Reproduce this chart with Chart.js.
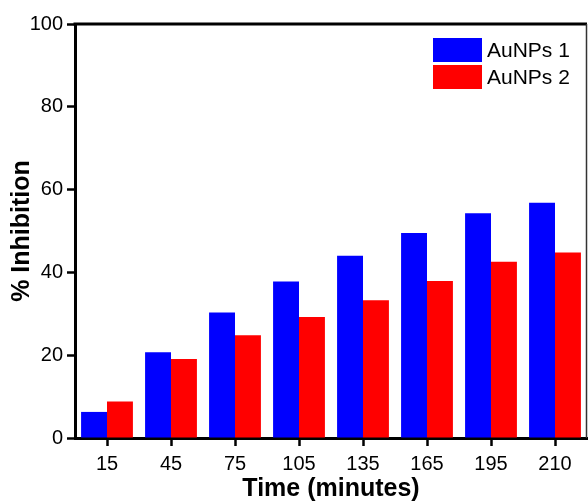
<!DOCTYPE html>
<html>
<head>
<meta charset="utf-8">
<script src="https://cdn.jsdelivr.net/npm/chart.js@4"></script>
<style>
  html, body { margin: 0; padding: 0; background: #fff; }
  #wrap { width: 588px; height: 504px; position: relative; }
</style>
</head>
<body>
<div id="wrap"><canvas id="myChart" width="588" height="504"></canvas></div>
<script>
// datos
const categories = ["15", "45", "75", "105", "135", "165", "195", "210"];
const aunps1 = [6.3, 20.7, 30.3, 37.8, 44.0, 49.5, 54.3, 56.8];
const aunps2 = [8.8, 19.1, 24.8, 29.2, 33.3, 37.9, 42.6, 44.8];
const yTicks = [0, 20, 40, 60, 80, 100];

const fuente = "'Liberation Sans', Arial, sans-serif";

// marco superior y derecho + leyenda dentro del area
const marcoYLeyenda = {
  id: "marcoYLeyenda",
  afterDraw(chart) {
    const ctx = chart.ctx;
    const a = chart.chartArea;
    ctx.save();
    ctx.strokeStyle = "#000";
    ctx.lineWidth = 3;
    ctx.beginPath();
    ctx.moveTo(a.left - 1.5, a.top);
    ctx.lineTo(a.right, a.top);
    ctx.stroke();
    ctx.lineWidth = 1.5;
    ctx.strokeStyle = "#333";
    ctx.beginPath();
    ctx.moveTo(a.right - 0.5, a.top);
    ctx.lineTo(a.right - 0.5, a.bottom);
    ctx.stroke();

    // leyenda
    let y = 38;
    chart.data.datasets.forEach(ds => {
      ctx.fillStyle = ds.backgroundColor;
      ctx.fillRect(433, y, 49, 24);
      ctx.fillStyle = "#000";
      ctx.font = "21px " + fuente;
      ctx.textBaseline = "middle";
      ctx.fillText(ds.label, 487, y + 13);
      y += 27;
    });
    ctx.restore();
  }
};

const data = {
  labels: categories,
  datasets: [
    { label: "AuNPs 1", data: aunps1, backgroundColor: "#0000ff" },
    { label: "AuNPs 2", data: aunps2, backgroundColor: "#ff0000" }
  ]
};

const config = {
  type: "bar",
  data: data,
  options: {
    responsive: false,
    animation: false,
    categoryPercentage: 0.81,
    barPercentage: 1.0,
    layout: { padding: { top: 24, right: 1, left: 7, bottom: 0 } },
    plugins: { legend: { display: false }, tooltip: { enabled: false } },
    scales: {
      x: {
        grid: { offset: false, drawOnChartArea: false, drawTicks: true, tickLength: 8, tickWidth: 2.5, tickColor: "#000" },
        border: { display: true, width: 3, color: "#000" },
        ticks: { color: "#000", font: { size: 20, family: fuente }, padding: 6, maxRotation: 0 },
        title: { display: true, text: "Time (minutes)", color: "#000", font: { size: 25, weight: "bold", family: fuente }, padding: { top: 2, bottom: 0 } },
        afterFit: s => { s.height = 66; }
      },
      y: {
        min: 0,
        max: 100,
        afterBuildTicks: s => { s.ticks = yTicks.map(v => ({ value: v })); },
        grid: { drawOnChartArea: false, drawTicks: true, tickLength: 8, tickWidth: 2.5, tickColor: "#000" },
        border: { display: true, width: 3, color: "#000" },
        ticks: { color: "#000", font: { size: 20, family: fuente }, padding: 4 },
        title: { display: true, text: "% Inhibition", color: "#000", font: { size: 25, weight: "bold", family: fuente }, padding: { top: 0, bottom: 4 } },
        afterFit: s => { s.width = 68; }
      }
    }
  },
  plugins: [marcoYLeyenda]
};

const myChart = new Chart(document.getElementById("myChart"), config);
</script>
</body>
</html>
